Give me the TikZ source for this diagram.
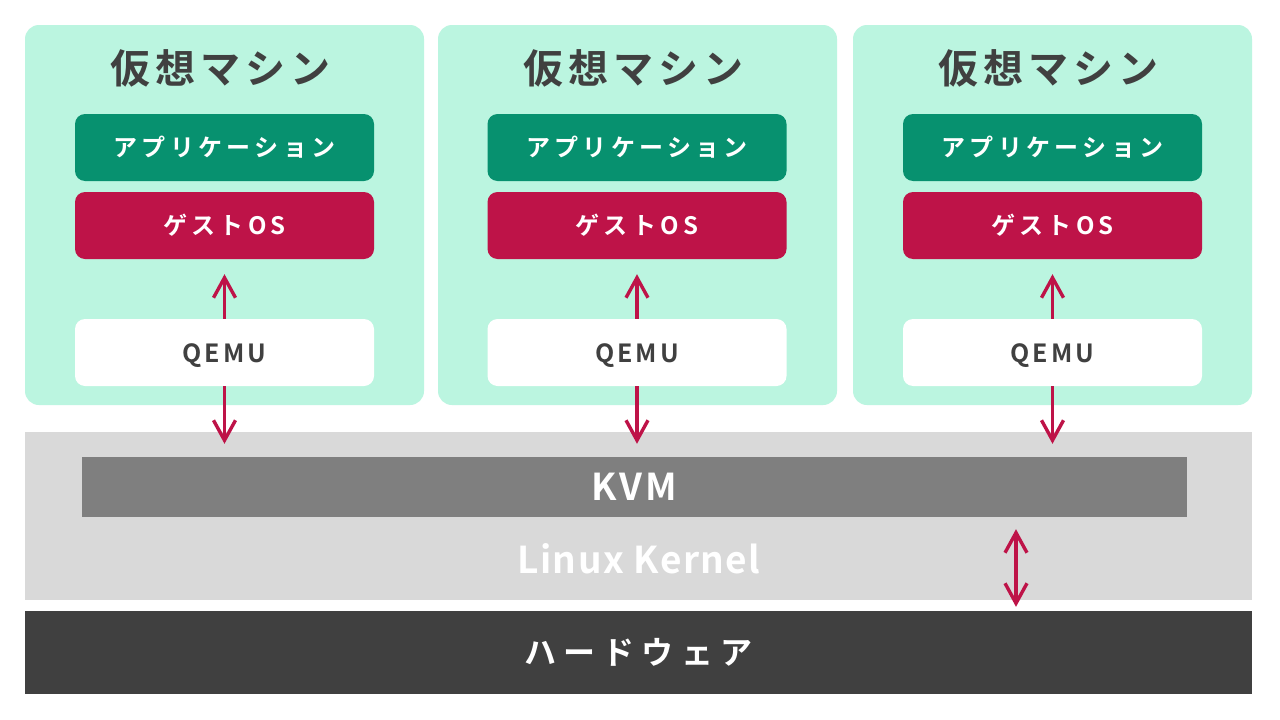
\documentclass[tikz,border=0pt]{standalone}
\usepackage{fontspec}
\setmainfont{Noto Sans CJK JP}[BoldFont={Noto Sans CJK JP Bold}]
\usetikzlibrary{arrows.meta}
\definecolor{panelc}{HTML}{BBF5E0}
\definecolor{appc}{HTML}{07916F}
\definecolor{osc}{HTML}{BE1348}
\definecolor{bandc}{HTML}{D9D9D9}
\definecolor{kvmc}{HTML}{7F7F7F}
\definecolor{hwc}{HTML}{404040}
\definecolor{darkc}{HTML}{404040}
\tikzset{
  panel/.style={fill=panelc, rounded corners=14pt, minimum width=399pt, minimum height=380pt, inner sep=0pt},
  title/.style={font=\fontsize{40}{42}\selectfont\bfseries\addfontfeatures{LetterSpace=13}, text=darkc, inner sep=0pt},
  layer/.style={rounded corners=10pt, minimum width=299pt, minimum height=67pt, inner sep=0pt,
    font=\fontsize{24}{26}\selectfont\bfseries\addfontfeatures{LetterSpace=18}},
  appbox/.style={layer, fill=appc, text=white},
  osbox/.style={layer, fill=osc, text=white},
  qemubox/.style={layer, fill=white, text=darkc, font=\fontsize{25}{26}\selectfont\bfseries\addfontfeatures{LetterSpace=12}},
  arr/.style={draw=osc, line width=3.4pt, {Straight Barb[length=20pt,width=22pt,line width=3.4pt]}-{Straight Barb[length=20pt,width=22pt,line width=3.4pt]}},
  arrup/.style={draw=osc, line width=3.4pt, -{Straight Barb[length=20pt,width=22pt,line width=3.4pt]}},
}
\begin{document}
\begin{tikzpicture}[x=1pt,y=-1pt]
\useasboundingbox (0,0) rectangle (1280,720);
\fill[white] (0,0) rectangle (1280,720);
% kernel band
\node[fill=bandc, minimum width=1227pt, minimum height=168pt, inner sep=0pt] (band) at (638.5,516) {};
\node[fill=kvmc, minimum width=1105pt, minimum height=60pt, inner sep=0pt, text=white,
  font=\fontsize{37}{38}\selectfont\bfseries\addfontfeatures{LetterSpace=8}] (kvm) at (634.5,487) {KVM};
\node[text=white, inner sep=0pt, font=\fontsize{37}{40}\selectfont\bfseries\addfontfeatures{LetterSpace=4}] (lk) at (639,559) {Linux Kernel};
% hardware
\node[fill=hwc, minimum width=1227pt, minimum height=83pt, inner sep=0pt, text=white,
  font=\fontsize{32}{34}\selectfont\bfseries\addfontfeatures{LetterSpace=22}] (hw) at (638.5,652.5) {ハードウェア};
% virtual machines
\foreach \i/\x/\bx in {1/224.5/224.5, 2/637.5/637, 3/1052.5/1052.5}{
  \node[panel] (vm\i) at (\x,215) {};
  \node[title] (t\i) at (\x-4,68) {仮想マシン};
  \node[appbox] (app\i) at (\bx,147.5) {アプリケーション};
  \node[osbox] (os\i) at (\bx,225.5) {ゲストOS};
  \node[qemubox, text depth=0pt] (q\i) at (\bx,352.5) {\raisebox{-2pt}{QEMU}};
  \draw[arrup, shorten >=15pt] (q\i.north) -- (os\i.south);
  \draw[arrup, shorten >=13pt] (q\i.south) -- (q\i.south |- kvm.north);
}
\coordinate (ax) at (1016,0);
\draw[arr, shorten <=12pt, shorten >=4pt] (ax |- kvm.south) -- (ax |- hw.north);
\end{tikzpicture}
\end{document}
